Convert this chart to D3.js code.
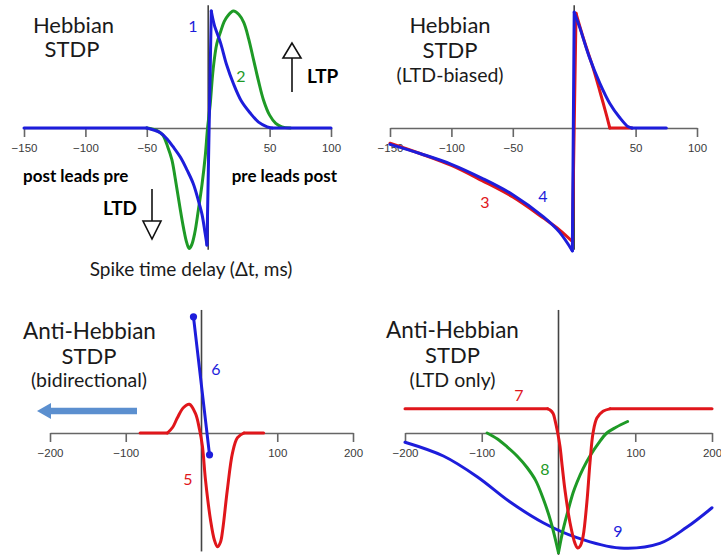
<!DOCTYPE html>
<html><head><meta charset="utf-8">
<script src="https://cdn.jsdelivr.net/npm/d3@7"></script>
<style>
body{margin:0;background:#fff;}
svg{display:block;}
</style></head><body>
<svg id="c" width="721" height="557"></svg>
<script>
// ---------- DATA ----------
// Panel A: Hebbian STDP
const ticksA = [-150, -100, -50, 50, 100];
const curve1T = [-150, -50, -45, -39, -33, -28.6, -22, -17.2, -12, -8, -5, -2.5, -1, 2.5, 5, 10, 15, 20.5, 27, 34, 41, 48, 52, 100];
const curve1Y = [0, 0, -0.015, -0.04, -0.1, -0.16, -0.26, -0.36, -0.48, -0.62, -0.74, -0.9, -1.0, 1.0, 0.88, 0.73, 0.54, 0.38, 0.23, 0.13, 0.05, 0.01, 0, 0];
const curve2T = [-50, -42, -37, -33, -29.6, -27, -23, -20, -17.5, -15.5, -13.5, -11, -8, -5, -2.5, -0.5, 1.6, 4, 7, 10, 13, 16, 20.5, 25, 29, 33, 37, 41, 45, 50, 55, 60, 67];
const curve2Y = [0, -0.02, -0.06, -0.16, -0.27, -0.42, -0.68, -0.86, -0.98, -1.03, -1.0, -0.9, -0.7, -0.48, -0.25, 0, 0.2, 0.5, 0.72, 0.82, 0.91, 0.96, 1.0, 0.97, 0.9, 0.76, 0.58, 0.4, 0.24, 0.11, 0.04, 0.01, 0];

// Panel B: Hebbian STDP (LTD-biased)
const ticksB = [-150, -100, -50, 50, 100];
const curve3T = [-150, -125, -100, -75, -50, -25, -12, -1.5, 1.5, 8, 15.5, 21, 25, 29, 47];
const curve3Y = [-0.13, -0.22, -0.32, -0.45, -0.59, -0.77, -0.87, -0.97, 0.98, 0.75, 0.51, 0.31, 0.16, 0, 0];
const curve4T = [-150, -125, -100, -75, -50, -25, -12, -1.5, 0, 4.5, 12.5, 21, 29, 37, 44, 47, 75];
const curve4Y = [-0.14, -0.22, -0.31, -0.43, -0.57, -0.76, -0.89, -1.05, 0.99, 0.86, 0.6, 0.38, 0.21, 0.09, 0.01, 0, 0];

// Panel C: Anti-Hebbian STDP (bidirectional)
const ticksC = [-200, -100, 100, 200];
const curve5T = [-81, -45, -38, -32, -24, -16, -8, -2.6, 1.3, 5.3, 12, 17, 21, 25, 28, 34, 41, 47.5, 56, 82];
const curve5Y = [0, 0, 0.05, 0.13, 0.22, 0.25, 0.17, 0.03, -0.12, -0.41, -0.76, -0.93, -0.99, -0.95, -0.84, -0.5, -0.17, -0.04, 0, 0];
const curve6T = [-10.6, 10.6];
const curve6Y = [1.01, -0.19];

// Panel D: Anti-Hebbian STDP (LTD only)
const ticksD = [-200, -100, 100, 200];
const curve7T = [-200, -14, -11, -7, -4.5, -1, 2, 5, 8.5, 15, 21.5, 25, 28.5, 32, 37, 41, 45, 50, 58, 67, 200];
const curve7Y = [0.21, 0.21, 0.2, 0.17, 0.11, 0.0, -0.12, -0.3, -0.5, -0.78, -0.96, -1.0, -0.98, -0.9, -0.6, -0.26, 0, 0.13, 0.19, 0.21, 0.21];
const curve8T = [-93, -80, -67, -54, -41, -30, -20, -10, 0, 5, 11, 19, 24, 32, 41, 52, 63, 75, 90];
const curve8Y = [0, -0.05, -0.12, -0.2, -0.3, -0.41, -0.57, -0.77, -1.04, -0.87, -0.71, -0.52, -0.43, -0.31, -0.2, -0.09, 0, 0.05, 0.1];
const curve9T = [-200, -150, -106, -63, -20, 24, 80, 132, 167, 200];
const curve9Y = [-0.08, -0.2, -0.38, -0.6, -0.78, -0.91, -1.0, -0.96, -0.82, -0.65];

// ---------- LAYOUT ----------
const BLUE = "#1d1ddb", GREEN = "#1e9a26", RED = "#e0161b";
const svg = d3.select("#c");
const zip = (t, y) => t.map((v, i) => [v, y[i]]);

function panel(cfg) {
  const x = d3.scaleLinear().domain(cfg.xDomain).range(cfg.xRange);
  const y = d3.scaleLinear().domain([-1, 1]).range([cfg.zeroY + cfg.unit, cfg.zeroY - cfg.unit]);
  const g = svg.append("g");
  const ax = g.append("g").attr("transform", `translate(0,${y(0)})`)
    .call(d3.axisBottom(x).tickValues(cfg.ticks).tickSize(9).tickSizeOuter(0).tickPadding(7).tickFormat(d3.format("d")));
  ax.select(".domain").attr("stroke", "#666").attr("stroke-width", 1.6);
  ax.selectAll(".tick line").attr("stroke", "#666").attr("stroke-width", 1.6);
  ax.selectAll(".tick text").attr("fill", "#3a3a3a").attr("font-family", "Liberation Sans, Arial, sans-serif").attr("font-size", 11.5);
  g.append("line").attr("x1", x(0)).attr("x2", x(0))
    .attr("y1", y(cfg.vTop)).attr("y2", y(cfg.vBot))
    .attr("stroke", "#444").attr("stroke-width", 1.6);
  const line = d3.line().x(d => x(d[0])).y(d => y(d[1]));
  cfg.curves.forEach(c => {
    const pts = zip(c.t, c.y);
    // split into smooth pieces at corner points (sharp turns in the original)
    const cuts = [0, ...(c.corners || []).map(v => c.t.indexOf(v)), pts.length - 1];
    const cg = g.append("g");
    for (let k = 0; k < cuts.length - 1; k++) {
      const seg = pts.slice(cuts[k], cuts[k + 1] + 1);
      cg.append("path").datum(seg)
        .attr("d", line.curve(c.linear ? d3.curveLinear : d3.curveCatmullRom.alpha(0.5)))
        .attr("fill", "none").attr("stroke", c.color).attr("stroke-width", 3)
        .attr("stroke-linejoin", "round").attr("stroke-linecap", "round");
    }
    if (c.dots) {
      cg.selectAll(null).data(pts).enter().append("circle")
        .attr("cx", d => x(d[0])).attr("cy", d => y(d[1])).attr("r", 3.6).attr("fill", c.color);
    }
  });
  return { x, y, g };
}

panel({ xDomain: [-150, 100], xRange: [24, 331], zeroY: 128, unit: 117, ticks: ticksA, vTop: 1.05, vBot: -1.04,
  curves: [{ t: curve2T, y: curve2Y, color: GREEN }, { t: curve1T, y: curve1Y, color: BLUE, corners: [-50, -1, 2.5, 52] }] });
panel({ xDomain: [-150, 100], xRange: [390, 697], zeroY: 128, unit: 117, ticks: ticksB, vTop: 1.05, vBot: -1.04,
  curves: [{ t: curve3T, y: curve3Y, color: RED, corners: [-1.5, 1.5, 29] }, { t: curve4T, y: curve4Y, color: BLUE, corners: [-1.5, 0, 47] }] });
panel({ xDomain: [-200, 200], xRange: [50, 353], zeroY: 433, unit: 115, ticks: ticksC, vTop: 1.07, vBot: -1.03,
  curves: [{ t: curve5T, y: curve5Y, color: RED, corners: [-45, 56] }, { t: curve6T, y: curve6Y, color: BLUE, linear: true, dots: true }] });
panel({ xDomain: [-200, 200], xRange: [405, 712], zeroY: 433, unit: 115, ticks: ticksD, vTop: 1.07, vBot: -1.06,
  curves: [{ t: curve9T, y: curve9Y, color: BLUE }, { t: curve8T, y: curve8Y, color: GREEN, corners: [0] }, { t: curve7T, y: curve7Y, color: RED, corners: [-14, 67] }] });

// ---------- TEXT ----------
const F = "Lato, 'Open Sans', sans-serif";
function txt(x, y, s, size, opts = {}) {
  return svg.append("text").attr("x", x).attr("y", y).text(s)
    .attr("font-family", F).attr("font-size", size)
    .attr("font-weight", opts.bold ? 700 : 400)
    .attr("fill", opts.color || "#1a1a1a")
    .attr("text-anchor", opts.anchor || "middle");
}
txt(73.5, 33, "Hebbian", 22); txt(72, 57, "STDP", 22);
txt(450, 33, "Hebbian", 22); txt(450, 58, "STDP", 22); txt(450, 82, "(LTD-biased)", 19.5);
txt(89.5, 339, "Anti-Hebbian", 22.5); txt(89, 364, "STDP", 22); txt(89, 387, "(bidirectional)", 19.5);
txt(452.5, 338, "Anti-Hebbian", 22.5); txt(452.5, 363, "STDP", 22); txt(452.5, 387, "(LTD only)", 19.5);
txt(193, 32, "1", 16, { color: BLUE }); txt(241, 82, "2", 16, { color: GREEN });
txt(485, 208, "3", 16, { color: RED }); txt(543, 202, "4", 16, { color: BLUE });
txt(188, 485, "5", 16, { color: RED }); txt(216, 375, "6", 16, { color: BLUE });
txt(519, 401, "7", 16, { color: RED }); txt(545, 475, "8", 16, { color: GREEN }); txt(618, 537, "9", 16, { color: BLUE });
txt(23, 182, "post leads pre", 17, { bold: true, anchor: "start", color: "#000" });
txt(337, 182, "pre leads post", 17, { bold: true, anchor: "end", color: "#000" });
txt(307, 83, "LTP", 19, { bold: true, anchor: "start", color: "#000" });
txt(137, 215, "LTD", 19, { bold: true, anchor: "end", color: "#000" });
txt(191, 276, "Spike time delay (\u0394t, ms)", 19, { color: "#1a1a1a" });

const arr = svg.append("g").attr("stroke", "#111").attr("stroke-width", 1.6).attr("fill", "#fff");
arr.append("line").attr("x1", 292).attr("x2", 292).attr("y1", 58).attr("y2", 92);
arr.append("path").attr("d", "M292,43 L283,58 L301,58 Z");
arr.append("line").attr("x1", 152).attr("x2", 152).attr("y1", 189).attr("y2", 221);
arr.append("path").attr("d", "M143,221 L161,221 L152,239 Z");

const ba = svg.append("g");
ba.append("line").attr("x1", 137).attr("x2", 48).attr("y1", 411).attr("y2", 411)
  .attr("stroke", "#5b8fcf").attr("stroke-width", 6.5);
ba.append("path").attr("d", "M37,411 L51,403 L51,419 Z").attr("fill", "#5b8fcf");
</script>
</body></html>
